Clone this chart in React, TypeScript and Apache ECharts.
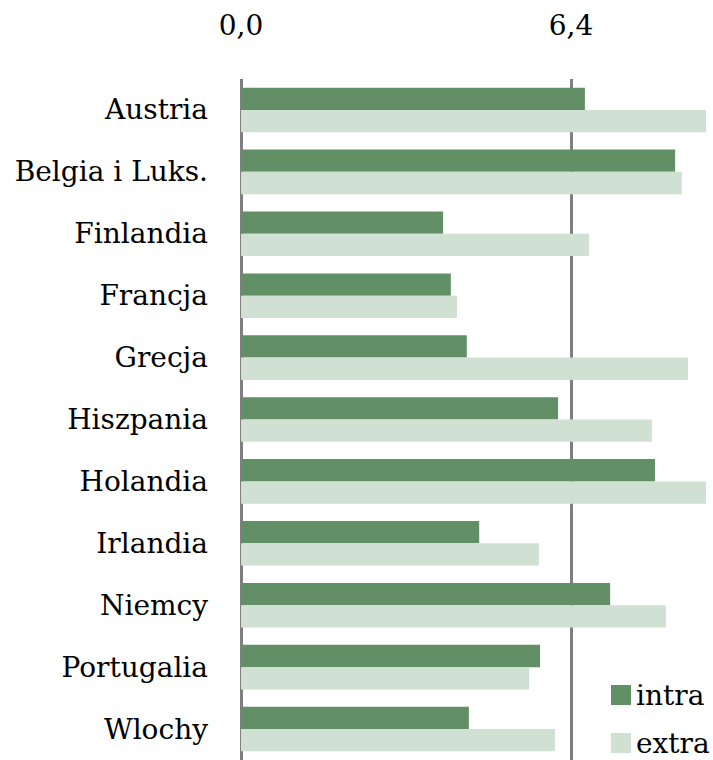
import React, { useEffect, useRef } from "react";
import * as echarts from "echarts";

const categories = [
  "Austria",
  "Belgia i Luks.",
  "Finlandia",
  "Francja",
  "Grecja",
  "Hiszpania",
  "Holandia",
  "Irlandia",
  "Niemcy",
  "Portugalia",
  "Wlochy",
];
const intraValues = [6.67, 8.42, 3.92, 4.07, 4.38, 6.15, 8.03, 4.62, 7.16, 5.8, 4.42];
const extraValues = [9.02, 8.55, 6.75, 4.19, 8.67, 7.97, 9.02, 5.78, 8.24, 5.59, 6.09];
const tickValues = [0, 6.4];
const seriesNames = ["intra", "extra"];

const FONT = "DejaVu Serif";
const FS = 28;

export default function App() {
  const ref = useRef<HTMLDivElement>(null);
  useEffect(() => {
    if (!ref.current) return;
    const chart = echarts.init(ref.current, null, { renderer: "svg" });
    const legendTops = [681, 729];
    chart.setOption({
      animation: false,
      backgroundColor: "#ffffff",
      textStyle: { fontFamily: FONT },
      grid: { left: 241, top: 79, width: 466.6, height: 685, containLabel: false },
      legend: seriesNames.map((n, i) => ({
        orient: "vertical",
        left: 611,
        top: legendTops[i],
        padding: 0,
        itemWidth: 20,
        itemHeight: 20,
        itemGap: 7,
        icon: "rect",
        textStyle: { fontFamily: FONT, fontSize: FS, color: "#000", lineHeight: 24 },
        data: [n],
      })),
      xAxis: {
        type: "value",
        position: "top",
        min: 0,
        max: 9.05,
        interval: 6.4,
        axisLine: { show: false },
        axisTick: { show: false },
        splitLine: { show: false },
        axisLabel: {
          showMaxLabel: false,
          margin: 40,
          fontFamily: FONT,
          fontSize: FS,
          color: "#000",
          formatter: (v: number) => v.toFixed(1).replace(".", ","),
        },
      },
      yAxis: {
        type: "category",
        data: categories,
        inverse: true,
        axisLine: { show: false },
        axisTick: { show: false },
        axisLabel: { margin: 33, fontFamily: FONT, fontSize: FS, color: "#000" },
      },
      series: [
        {
          type: "line",
          data: [],
          silent: true,
          markLine: {
            z: 1,
            silent: true,
            symbol: ["none", "none"],
            label: { show: false },
            lineStyle: { color: "#7f7f7f", width: 3, type: "solid" },
            data: tickValues.map((v) => ({ xAxis: v })),
          },
        },
        {
          name: seriesNames[0],
          type: "bar",
          data: intraValues,
          z: 3,
          barGap: "0%",
          barCategoryGap: "28%",
          itemStyle: { color: "#628f65" },
        },
        {
          name: seriesNames[1],
          type: "bar",
          data: extraValues,
          z: 3,
          barGap: "0%",
          barCategoryGap: "28%",
          itemStyle: { color: "#d0e0d2" },
        },
      ],
    });
    return () => chart.dispose();
  }, []);
  return (
    <div
      ref={ref}
      style={{ position: "absolute", left: 0, top: 0, width: 713, height: 760 }}
    />
  );
}
